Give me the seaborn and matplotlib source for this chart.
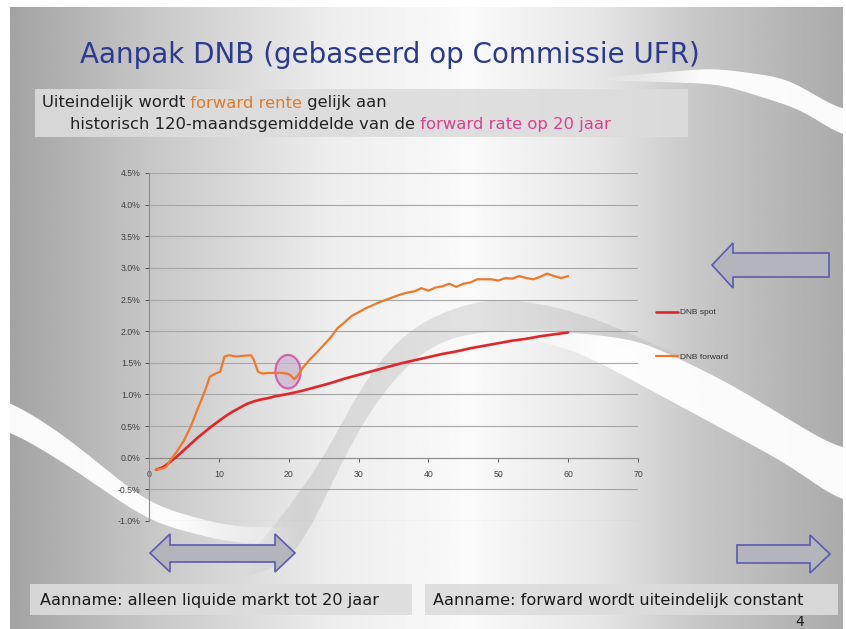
import numpy as np
import seaborn as sns
import matplotlib.pyplot as plt
from matplotlib.patches import Ellipse, Polygon, Rectangle

# term structure (maturity in years, rate in %)
SPOT_YEARS = [1, 2, 3, 4, 5, 6, 7, 8, 9, 10, 11, 12, 13, 14, 15, 16, 17, 18, 19, 20,
              22, 24, 26, 28, 30, 32, 34, 36, 38, 40, 42, 44, 46, 48, 50, 52, 54, 56, 58, 60]
SPOT_RATE = [-0.19, -0.15, -0.07, 0.02, 0.12, 0.22, 0.32, 0.41, 0.50, 0.58, 0.66, 0.73,
             0.79, 0.85, 0.89, 0.92, 0.94, 0.97, 0.99, 1.01, 1.06, 1.12, 1.18, 1.25,
             1.31, 1.37, 1.43, 1.49, 1.54, 1.59, 1.64, 1.68, 1.73, 1.77, 1.81, 1.85,
             1.88, 1.92, 1.95, 1.98]

FWD_YEARS = [1, 1.5, 2, 2.5, 3, 4, 5, 6, 7, 8, 8.7, 9.5, 10.2, 10.8, 11.5, 12.5, 13.5,
             14.6, 15, 15.6, 16.2, 17, 18, 19, 19.8, 20.3, 20.8, 21.3, 22, 23, 24, 25,
             26, 27, 28, 29, 30, 31, 32, 33, 34, 35, 36, 37, 38, 39, 40, 41, 42, 43, 44,
             45, 46, 47, 48, 49, 50, 51, 52, 53, 54, 55, 56, 57, 58, 59, 60]
FWD_RATE = [-0.19, -0.18, -0.17, -0.14, -0.05, 0.10, 0.27, 0.50, 0.78, 1.05, 1.28, 1.33,
            1.36, 1.60, 1.62, 1.60, 1.61, 1.62, 1.55, 1.36, 1.33, 1.34, 1.34, 1.34, 1.33,
            1.30, 1.24, 1.30, 1.42, 1.55, 1.66, 1.78, 1.90, 2.05, 2.14, 2.24, 2.30, 2.36,
            2.41, 2.46, 2.50, 2.54, 2.58, 2.61, 2.63, 2.68, 2.64, 2.69, 2.71, 2.75, 2.70,
            2.75, 2.77, 2.82, 2.82, 2.82, 2.80, 2.84, 2.83, 2.87, 2.84, 2.82, 2.86, 2.91,
            2.87, 2.84, 2.87]

Y_TICKS = [-1.0, -0.5, 0.0, 0.5, 1.0, 1.5, 2.0, 2.5, 3.0, 3.5, 4.0, 4.5]
X_TICKS = [0, 10, 20, 30, 40, 50, 60, 70]

TITLE = "Aanpak DNB (gebaseerd op Commissie UFR)"
NOTE_LINE1 = [("Uiteindelijk wordt", "#222222"), (" forward rente", "#E07B2A"),
              (" gelijk aan", "#222222")]
NOTE_LINE2 = [("historisch 120-maandsgemiddelde van de", "#222222"),
              (" forward rate op 20 jaar", "#D9408F")]
BOX_LEFT = "Aanname: alleen liquide markt tot 20 jaar"
BOX_RIGHT = "Aanname: forward wordt uiteindelijk constant"

SPOT_COLOR = "#E0252B"
FWD_COLOR = "#F0782A"
W, H = 846, 629

sns.set_theme(style="white")
plt.rcParams["font.family"] = ["DejaVu Sans"]

fig = plt.figure(figsize=(W / 100, H / 100), dpi=100)
fig.patch.set_facecolor("white")

# ---- slide background (pixel coordinates) ----
bg = fig.add_axes([0, 0, 1, 1])
bg.set_xlim(0, W)
bg.set_ylim(H, 0)
bg.axis("off")

xs = np.linspace(10, 843, 400)
gray = np.interp(xs, [10, 150, 330, 470, 600, 700, 843],
                 [0.64, 0.78, 0.93, 0.98, 0.90, 0.78, 0.67])
bg.imshow(np.tile(gray, (50, 1)), cmap="gray", vmin=0, vmax=1,
          extent=[10, 843, H, 7], aspect="auto", zorder=0)


def smooth_edge(x, px, py, width=20):
    # decorative swoosh outline: piecewise guide softened with a gaussian
    y = np.interp(x, px, py)
    k = np.exp(-0.5 * (np.arange(-3 * width, 3 * width + 1) / width) ** 2)
    k /= k.sum()
    return np.convolve(np.pad(y, 3 * width, mode="edge"), k, mode="valid")


def swoosh(x, top, bot, rgb, ax_pts, a_pts):
    outline = Polygon(np.column_stack([np.r_[x, x[::-1]], np.r_[top, bot[::-1]]]),
                      closed=True, facecolor="none", edgecolor="none")
    bg.add_patch(outline)
    rgba = np.zeros((2, W, 4))
    rgba[..., :3] = rgb
    rgba[..., 3] = np.interp(np.arange(W), ax_pts, a_pts)
    im = bg.imshow(rgba, extent=[0, W, H, 0], aspect="auto", zorder=1)
    im.set_clip_path(outline)


# left white swoosh, fading under the chart
lx = np.arange(0, 320)
swoosh(lx,
       smooth_edge(lx, [0, 60, 150, 230, 320], [395, 432, 505, 527, 528]),
       smooth_edge(lx, [0, 60, 150, 230, 320], [425, 460, 522, 543, 545]),
       (1, 1, 1), [0, 180, 310], [0.95, 0.95, 0.0])

# grey S band through the chart
gx = np.arange(240, 700)
swoosh(gx,
       smooth_edge(gx, [240, 327, 350, 383, 417, 467, 500, 550, 600, 700],
                   [570, 457, 403, 353, 323, 303, 298, 305, 320, 365]),
       smooth_edge(gx, [240, 300, 333, 367, 400, 433, 467, 517, 560, 600, 700],
                   [580, 560, 477, 413, 370, 343, 333, 330, 330, 337, 380]),
       (0.55, 0.55, 0.55), [240, 300, 620, 700], [0.0, 0.22, 0.22, 0.0])

# right white swoosh
rx = np.arange(480, 844)
swoosh(rx,
       smooth_edge(rx, [480, 520, 560, 640, 727, 843], [333, 331, 331, 340, 382, 452]),
       smooth_edge(rx, [480, 520, 580, 693, 793, 843], [336, 336, 352, 413, 467, 505]),
       (1, 1, 1), [480, 600, 843], [0.0, 0.95, 0.95])

# top right white swoosh
tx = np.arange(600, 844)
swoosh(tx,
       smooth_edge(tx, [600, 713, 787, 843], [78, 68, 78, 112], 15),
       smooth_edge(tx, [600, 720, 803, 843], [80, 84, 110, 138], 15),
       (1, 1, 1), [600, 700, 843], [0.0, 0.95, 0.95])

# title and note
bg.text(80, 55, TITLE, color="#2B3990", fontsize=20, va="center", ha="left", zorder=3)
bg.add_patch(Rectangle((35, 89), 653, 48, facecolor="#dcdcdc", edgecolor="none",
                       alpha=0.9, zorder=2))

renderer = fig.canvas.get_renderer()


def colored_line(x, y, parts, size):
    for txt, col in parts:
        t = bg.text(x, y, txt, color=col, fontsize=size, va="center", ha="left", zorder=3)
        x += t.get_window_extent(renderer).width


colored_line(42, 103, NOTE_LINE1, 11.8)
colored_line(70, 125, NOTE_LINE2, 11.8)

# bottom boxes
bg.add_patch(Rectangle((30, 584), 382, 31, facecolor="#dcdcdc", edgecolor="none",
                       alpha=0.9, zorder=2))
bg.add_patch(Rectangle((425, 584), 413, 31, facecolor="#dcdcdc", edgecolor="none",
                       alpha=0.9, zorder=2))
bg.text(40, 600, BOX_LEFT, fontsize=11.6, color="#1a1a1a", va="center", zorder=3)
bg.text(433, 600, BOX_RIGHT, fontsize=11.6, color="#1a1a1a", va="center", zorder=3)
bg.text(800, 622, "4", fontsize=10, color="#1a1a1a", va="center", ha="center", zorder=3)

# arrows
arrow_style = dict(facecolor="#b4b4bc", edgecolor="#5b5bb0", lw=1.2, zorder=3)
bg.add_patch(Polygon([(150, 553), (170, 534), (170, 545), (275, 545), (275, 534),
                      (295, 553), (275, 572), (275, 562), (170, 562), (170, 572)],
                     closed=True, **arrow_style))
bg.add_patch(Polygon([(737, 545), (810, 545), (810, 535), (830, 554), (810, 573),
                      (810, 563), (737, 563)], closed=True, **arrow_style))
bg.add_patch(Polygon([(712, 265), (733, 243), (733, 253), (829, 253), (829, 277),
                      (733, 277), (733, 288)], closed=True, **arrow_style))
bg.set_xlim(0, W)
bg.set_ylim(H, 0)

# ---- chart ----
ax = fig.add_axes([149 / W, 1 - 521 / H, (638 - 149) / W, (521 - 173) / H])
ax.patch.set_alpha(0)

ax.add_patch(Ellipse((19.9, 1.36), 3.6, 0.53, facecolor="#c9b5cf", alpha=0.75,
                     edgecolor="#D03FA0", lw=1.6, zorder=2))
sns.lineplot(x=SPOT_YEARS, y=SPOT_RATE, ax=ax, color=SPOT_COLOR, lw=1.9,
             label="DNB spot", zorder=3)
sns.lineplot(x=FWD_YEARS, y=FWD_RATE, ax=ax, color=FWD_COLOR, lw=1.6,
             label="DNB forward", zorder=3)

ax.set_xlim(0, 70)
ax.set_ylim(-1.0, 4.5)
ax.set_yticks(Y_TICKS)
ax.set_yticklabels([f"{v:.1f}%" for v in Y_TICKS])
ax.set_xticks(X_TICKS)
ax.set_xlabel("")
ax.set_ylabel("")
ax.grid(axis="y", color="#a6a6a6", lw=0.8)
ax.grid(axis="x", visible=False)
ax.set_axisbelow(True)
for side in ["top", "right"]:
    ax.spines[side].set_visible(False)
ax.spines["left"].set_color("#8c8c8c")
ax.spines["left"].set_linewidth(0.8)
ax.spines["bottom"].set_position(("data", 0))
ax.spines["bottom"].set_color("#8c8c8c")
ax.spines["bottom"].set_linewidth(0.8)
ax.tick_params(axis="both", labelsize=6.3, colors="#404040", length=3, width=0.6,
               direction="out", pad=3)
ax.tick_params(axis="x", pad=6)
ax.tick_params(axis="both", which="both", bottom=True, left=True)
for lab in ax.get_xticklabels() + ax.get_yticklabels():
    lab.set_family("Liberation Sans")

leg = ax.legend(loc="center left", bbox_to_anchor=(1.03, 0.535), frameon=False,
                fontsize=6, labelspacing=4.4, handlelength=2.6, handletextpad=0.3,
                borderaxespad=0)
for t in leg.get_texts():
    t.set_family("Liberation Sans")
    t.set_color("#303030")

fig.savefig("out.png", dpi=100)
